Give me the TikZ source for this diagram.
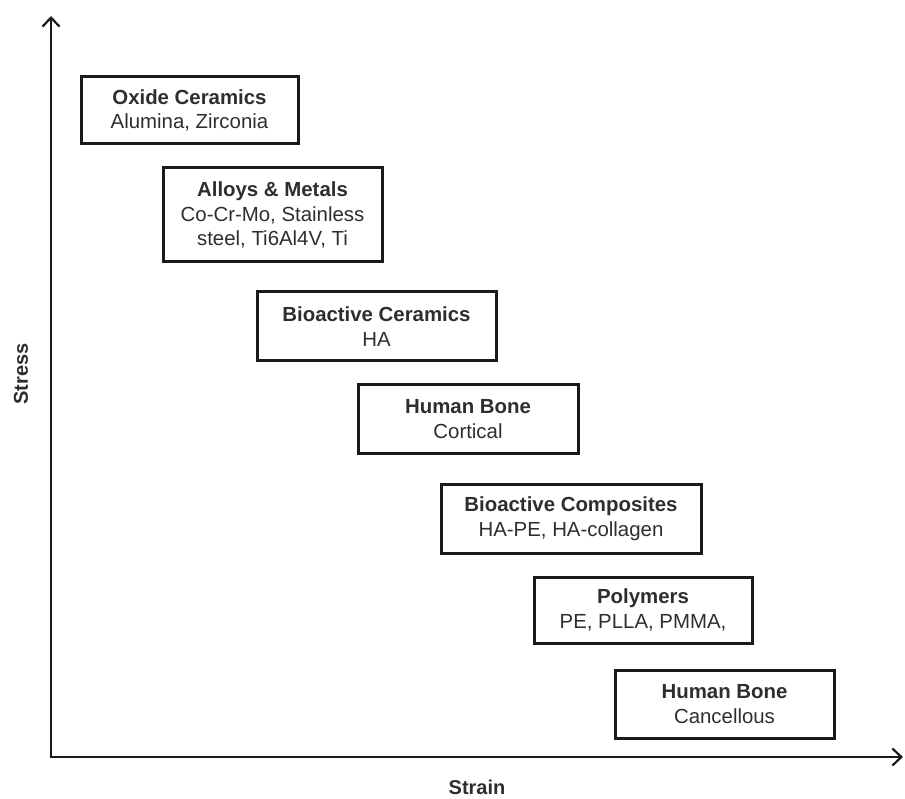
\documentclass[tikz,border=0pt]{standalone}
\usepackage{fontspec}
\setmainfont{Liberation Sans}
\usetikzlibrary{arrows.meta}
\definecolor{ink}{HTML}{1A1A1A}
\definecolor{txt}{HTML}{2E2E2E}
\begin{document}
\begin{tikzpicture}[x=1pt,y=-1pt,
  matbox/.style={draw=ink, line width=3pt, text=txt, align=center, inner sep=0pt,
    font=\fontsize{20.4}{24.5}\selectfont},
  axis/.style={draw=ink, line width=2pt, {Straight Barb[length=9pt,width=17pt,line width=2.2pt]}-{Straight Barb[length=9pt,width=17pt,line width=2.2pt]}},
  axlabel/.style={text=txt, font=\fontsize{20}{24}\selectfont\bfseries, inner sep=0pt}]
\useasboundingbox (0,0) rectangle (905,799);
\coordinate (ytop) at (51,16);
\coordinate (o) at (51,757);
\coordinate (xend) at (903,757);
\draw[axis] (ytop) -- (o) -- (xend);
\node[axlabel] (strain) at (477,787) {Strain};
\node[axlabel, rotate=90] (stress) at (21,374) {Stress};

\node[matbox, minimum width=217pt, minimum height=67pt] (oxide) at (189.5,110.5)
  {\textbf{Oxide Ceramics}\\Alumina, Zirconia};
\node[matbox, minimum width=219pt, minimum height=94pt] (alloys) at (272.5,215)
  {\textbf{Alloys \& Metals}\\Co-Cr-Mo, Stainless\\steel, Ti6Al4V, Ti};
\node[matbox, minimum width=239pt, minimum height=69pt] (biocer) at (376.5,326.5)
  {\textbf{Bioactive Ceramics}\\HA};
\node[matbox, minimum width=220pt, minimum height=68pt] (cortical) at (468,419)
  {\textbf{Human Bone}\\Cortical};
\node[matbox, minimum width=260pt, minimum height=69pt] (composites) at (571,518.5)
  {\textbf{Bioactive Composites}\\HA-PE, HA-collagen};
\node[matbox, minimum width=218pt, minimum height=66pt] (polymers) at (643,610)
  {\textbf{Polymers}\\PE, PLLA, PMMA,};
\node[matbox, minimum width=219pt, minimum height=68pt] (cancellous) at (724.5,704)
  {\textbf{Human Bone}\\Cancellous};
\end{tikzpicture}
\end{document}
